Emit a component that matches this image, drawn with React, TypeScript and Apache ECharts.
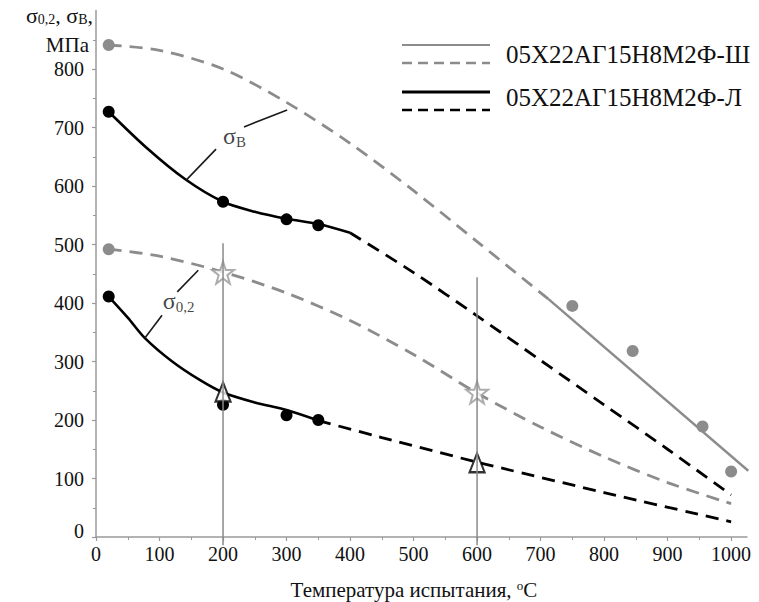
import React, { useEffect, useRef } from 'react';
import * as echarts from 'echarts';

const FONT = "'Liberation Serif', 'Times New Roman', serif";
const GRAY = '#8c8c8c';
const AXIS_GRAY = '#9a9a9a';
const INK = '#111111';

// axis ticks
const xTicks = [0, 100, 200, 300, 400, 500, 600, 700, 800, 900, 1000];
const yTicks = [0, 100, 200, 300, 400, 500, 600, 700, 800];

// σВ, steel "Ш" (gray)
const sbShDashX = [20, 100, 200, 300, 400, 500, 600, 712];
const sbShDashY = [841, 832, 800, 743, 673, 592, 505, 407];
const sbShSolidX = [712, 1027];
const sbShSolidY = [407, 113];
const sbShDotX = [20, 750, 845, 955, 1000];
const sbShDotY = [841, 395, 318, 189, 112];

// σВ, steel "Л" (black)
const sbLSolidX = [20, 80, 140, 200, 250, 300, 350, 400];
const sbLSolidY = [727, 665, 612, 573, 556, 544, 535, 520];
const sbLDashX = [400, 500, 600, 700, 800, 900, 1000];
const sbLDashY = [520, 452, 378, 302, 226, 150, 72];
const sbLDotX = [20, 200, 300, 350];
const sbLDotY = [727, 573, 543, 533];

// σ0,2, steel "Ш" (gray)
const s02ShDashX = [20, 100, 200, 300, 400, 500, 600, 700, 800, 900, 1000];
const s02ShDashY = [492, 480, 453, 417, 370, 312, 246, 188, 137, 93, 57];
const s02ShDotX = [20];
const s02ShDotY = [492];
const starX = [200, 600];
const starY = [452, 247];

// σ0,2, steel "Л" (black)
const s02LSolidX = [20, 50, 77, 120, 164, 200, 250, 300, 350];
const s02LSolidY = [411, 375, 340, 300, 268, 247, 230, 217, 199];
const s02LDashX = [350, 450, 600, 800, 1000];
const s02LDashY = [199, 170, 128, 76, 26];
const s02LDotX = [20, 200, 300, 350];
const s02LDotY = [411, 226, 208, 200];
const triX = [200, 600];
const triY = [248, 127];

// vertical guide lines
const vLineX = [200, 600];
const vLineTop = [502, 444];
const vLineBottom = -14;

// annotation leaders and labels (data coordinates)
const leaderSB = [[[142, 610], [189, 663]], [[233, 701], [301, 730]]];
const leaderS02 = [[[77, 340], [104, 379]], [[128, 419], [161, 456]]];
const labelSB = [218, 686];
const labelS02 = [130, 404];

const legendNames = ['05Х22АГ15Н8М2Ф-Ш', '05Х22АГ15Н8М2Ф-Л'];

const zip = (xs: number[], ys: number[]) => xs.map((x, i) => [x, ys[i]]);
const DASH = [13, 8];

const lineS = (data: number[][], color: string, width: number, dashed: boolean, smooth: number | boolean, z = 2) => ({
  type: 'line',
  data,
  symbol: 'none',
  smooth,
  silent: true,
  clip: false,
  z,
  lineStyle: { color, width, type: dashed ? DASH : 'solid', cap: 'butt' },
});

const dotS = (data: number[][], color: string) => ({
  type: 'scatter',
  data,
  symbol: 'circle',
  symbolSize: 12,
  silent: true,
  z: 4,
  itemStyle: { color, opacity: 1 },
});

const STAR = 'path://M50,2 L61.5,36 L97,36 L68.5,57.5 L79,92 L50,71 L21,92 L31.5,57.5 L3,36 L38.5,36 Z';

const subRich = {
  s: { fontSize: 24, fontFamily: FONT, color: INK },
  sub: { fontSize: 15, fontFamily: FONT, color: INK, padding: [12, 0, 0, 0] },
};

export default function App() {
  const ref = useRef<HTMLDivElement>(null);
  useEffect(() => {
    if (!ref.current) return;
    const chart = echarts.init(ref.current, null, { renderer: 'svg' });

    const series: any[] = [
      lineS(zip(sbShDashX, sbShDashY), GRAY, 2.8, true, 0.3),
      lineS(zip(sbShSolidX, sbShSolidY), GRAY, 2.5, false, false),
      lineS(zip(sbLSolidX, sbLSolidY), '#000', 2.6, false, 0.3),
      lineS(zip(sbLDashX, sbLDashY), '#000', 2.8, true, 0.3),
      lineS(zip(s02ShDashX, s02ShDashY), GRAY, 2.8, true, 0.3),
      lineS(zip(s02LSolidX, s02LSolidY), '#000', 2.6, false, 0.3),
      lineS(zip(s02LDashX, s02LDashY), '#000', 2.8, true, 0.2),
      dotS(zip(sbShDotX, sbShDotY), GRAY),
      dotS(zip(s02ShDotX, s02ShDotY), GRAY),
      dotS(zip(sbLDotX, sbLDotY), '#000'),
      dotS(zip(s02LDotX, s02LDotY), '#000'),
      {
        type: 'scatter',
        data: zip(starX, starY),
        symbol: STAR,
        symbolSize: 22,
        silent: true,
        z: 4,
        itemStyle: { color: '#ffffff', borderColor: '#999999', borderWidth: 2 },
      },
      {
        type: 'scatter',
        data: zip(triX, triY),
        symbol: 'triangle',
        symbolSize: [15, 19],
        silent: true,
        z: 4,
        itemStyle: { color: '#ffffff', borderColor: '#000000', borderWidth: 2.2 },
      },
    ];

    vLineX.forEach((x, i) => {
      series.push({
        ...lineS([[x, vLineBottom], [x, vLineTop[i]]], '#8a8a8a', 1.5, false, false, 6),
      });
    });

    [...leaderSB, ...leaderS02].forEach((seg) => {
      series.push(lineS(seg, '#1a1a1a', 1.6, false, false, 5));
    });

    const labelSeries = (pt: number[], fmt: string) => ({
      type: 'scatter',
      data: [pt],
      symbolSize: 1,
      silent: true,
      z: 7,
      itemStyle: { color: 'rgba(0,0,0,0)' },
      label: {
        show: true,
        position: 'inside',
        formatter: fmt,
        rich: subRich,
      },
    });
    series.push(labelSeries(labelSB, '{s|σ}{sub|В}'));
    series.push(labelSeries(labelS02, '{s|σ}{sub|0,2}'));

    const legendLine = (y: number, color: string, width: number, dashed: boolean) => ({
      type: 'line',
      silent: true,
      shape: { x1: 402, y1: y, x2: 490, y2: y },
      style: { stroke: color, lineWidth: width, lineDash: dashed ? [10, 6] : null },
    });

    const option: any = {
      animation: false,
      grid: { left: 96, top: 10.5, width: 651, height: 526.5 },
      xAxis: {
        type: 'value',
        min: 0,
        max: 1025,
        interval: 100,
        splitLine: { show: false },
        axisLine: { show: true, lineStyle: { color: AXIS_GRAY, width: 1.5 } },
        axisTick: { show: true, length: 4, customValues: xTicks, lineStyle: { color: AXIS_GRAY, width: 1.2 } },
        minorTick: { show: true, splitNumber: 2, length: 3, lineStyle: { color: AXIS_GRAY, width: 1 } },
        axisLabel: {
          customValues: xTicks,
          fontSize: 20,
          fontFamily: FONT,
          color: INK,
          margin: 7,
          formatter: (v: number) => (v % 100 === 0 && v <= 1000 ? String(v) : ''),
        },
      },
      yAxis: {
        type: 'value',
        min: 0,
        max: 900,
        interval: 100,
        splitLine: { show: false },
        axisLine: { show: true, lineStyle: { color: AXIS_GRAY, width: 1.5 } },
        axisTick: { show: true, length: 4, customValues: yTicks, lineStyle: { color: AXIS_GRAY, width: 1.2 } },
        minorTick: { show: true, splitNumber: 2, length: 3, lineStyle: { color: AXIS_GRAY, width: 1 } },
        axisLabel: {
          customValues: yTicks,
          fontSize: 20,
          fontFamily: FONT,
          color: INK,
          margin: 12,
          formatter: (v: number) => (v === 0 ? '{z|0}' : v <= 800 ? String(v) : ''),
          rich: { z: { fontSize: 20, fontFamily: FONT, color: INK, padding: [0, 0, 13, 0] } },
        },
      },
      graphic: [
        {
          type: 'text',
          silent: true,
          style: {
            x: 93,
            y: 15,
            align: 'right',
            verticalAlign: 'middle',
            text: '{s|σ}{sub|0,2}{s|, σ}{sub|В}{s|,}',
            rich: {
              s: { fontSize: 22, fontFamily: FONT, fill: INK },
              sub: { fontSize: 14, fontFamily: FONT, fill: INK, padding: [8, 0, 0, 0] },
            },
          },
        },
        {
          type: 'text',
          silent: true,
          style: { x: 89, y: 45, align: 'right', verticalAlign: 'middle', text: 'МПа', fontSize: 21, fontFamily: FONT, fill: INK },
        },
        {
          type: 'text',
          silent: true,
          style: {
            x: 414,
            y: 590,
            align: 'center',
            verticalAlign: 'middle',
            text: '{t|Температура испытания, }{sup|o}{t|C}',
            rich: {
              t: { fontSize: 21, fontFamily: FONT, fill: INK },
              sup: { fontSize: 13, fontFamily: FONT, fill: INK, padding: [0, 0, 10, 0] },
            },
          },
        },
        legendLine(45, GRAY, 2, false),
        legendLine(63, GRAY, 2.6, true),
        legendLine(92, '#000', 3, false),
        legendLine(110, '#000', 2.6, true),
        {
          type: 'text',
          silent: true,
          style: { x: 506, y: 54, verticalAlign: 'middle', text: legendNames[0], fontSize: 25, fontFamily: FONT, fill: INK },
        },
        {
          type: 'text',
          silent: true,
          style: { x: 506, y: 97, verticalAlign: 'middle', text: legendNames[1], fontSize: 25, fontFamily: FONT, fill: INK },
        },
      ],
      series,
    };

    chart.setOption(option);
    return () => chart.dispose();
  }, []);

  return (
    <div
      ref={ref}
      style={{ position: 'absolute', left: 0, top: 0, width: 759, height: 602, background: '#ffffff' }}
    />
  );
}
